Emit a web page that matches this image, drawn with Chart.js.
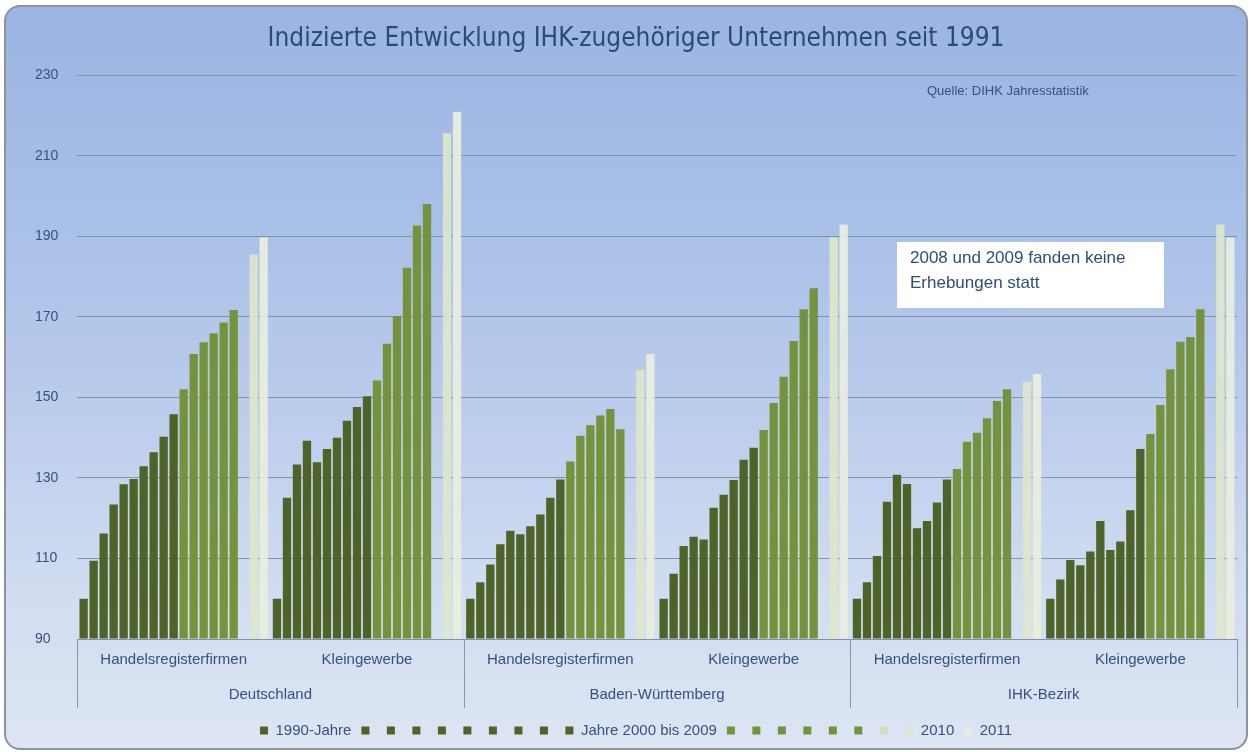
<!DOCTYPE html>
<html>
<head>
<meta charset="utf-8">
<script src="https://cdn.jsdelivr.net/npm/chart.js@4.4.1/dist/chart.umd.min.js"></script>
<style>
html, body { margin: 0; padding: 0; background: #fff; }
#frame {
    position: absolute; left: 4px; top: 5px;
    width: 1240px; height: 741px;
    border: 2px solid #8d939e; border-radius: 16px; overflow: hidden;
    background: linear-gradient(to bottom, #9cb4e2 0%, #a9c0e8 30%, #bccdec 55%, #d2ddf1 80%, #dde5f3 100%);
}
#c { display: block; }
</style>
</head>
<body>
<div id="frame"><canvas id="c" width="1240" height="741"></canvas></div>
<script>
// Gruppen und Kategorien
const groups = ['Deutschland', 'Baden-Württemberg', 'IHK-Bezirk'];
const categories = ['Handelsregisterfirmen', 'Kleingewerbe', 'Handelsregisterfirmen', 'Kleingewerbe', 'Handelsregisterfirmen', 'Kleingewerbe'];
const yMin = 90, yMax = 230, yStep = 20;

// Legende: 10 dunkle, 6 mittlere, 1 leere Reihe (2008/2009), 2010, 2011
const legendLabels = ['1990-Jahre', '', '', '', '', '', '', '', '', 'Jahre 2000 bis 2009',
    '', '', '', '', '', '', '', '2010', '2011'];

// Indexwerte je Kategorie (eine Zahl pro Reihe, null = keine Erhebung)
const dHR   = [100, 109.4, 116.2, 123.4, 128.4, 129.7, 132.9, 136.4, 140.2, 145.8, 152.0, 160.8, 163.7, 165.9, 168.6, 171.7, null, 185.5, 189.7];
const dKG   = [100, 125.1, 133.3, 139.2, 133.9, 137.2, 140.0, 144.2, 147.6, 150.3, 154.2, 163.3, 170.2, 182.2, 192.7, 198.0, null, 215.6, 220.9];
const bwHR  = [100, 104.1, 108.5, 113.5, 116.9, 116.0, 118.0, 120.9, 125.1, 129.6, 134.1, 140.5, 143.1, 145.5, 147.1, 142.1, null, 156.8, 160.8];
const bwKG  = [100, 106.2, 113.1, 115.4, 114.7, 122.6, 125.8, 129.5, 134.5, 137.5, 141.9, 148.6, 155.1, 164.0, 171.9, 177.1, null, 189.7, 192.9];
const ihkHR = [100, 104.1, 110.6, 124.1, 130.8, 128.5, 117.5, 119.3, 123.9, 129.6, 132.2, 139.0, 141.2, 144.8, 149.1, 152.0, null, 153.9, 155.8];
const ihkKG = [100, 104.8, 109.6, 108.3, 111.7, 119.3, 112.1, 114.2, 122.0, 137.2, 140.9, 148.1, 157.0, 163.8, 165.0, 171.9, null, 192.9, 189.7];
const byCategory = [dHR, dKG, bwHR, bwKG, ihkHR, ihkKG];

const DARK = '#4f6228', MID = '#76923c';
const seriesColors = legendLabels.map((_, i) => {
    if (i < 10) return DARK;
    if (i < 16) return MID;
    if (i === 16) return '#d3dfbb';
    return i === 17 ? 'rgba(221,230,203,0.92)' : 'rgba(233,239,220,0.92)';
});

const TXT = '#34527f';
const FONT = "'Liberation Sans', Arial, sans-serif";
Chart.defaults.font.family = FONT;

const datasets = legendLabels.map((lab, i) => ({
    label: lab,
    data: byCategory.map(c => c[i]),
    backgroundColor: seriesColors[i],
    borderWidth: 0,
    base: yMin,
    barPercentage: 0.83,
    categoryPercentage: 0.983
}));

// Gruppenbeschriftung, Trennlinien, Quelle und Hinweis
const extras = {
    id: 'extras',
    afterDraw(chart) {
        const { ctx, chartArea, scales: { x } } = chart;
        const step = x.getPixelForValue(1) - x.getPixelForValue(0);
        ctx.save();
        ctx.strokeStyle = '#8b95a8';
        ctx.lineWidth = 1;
        for (let g = 0; g <= groups.length; g++) {
            const px = Math.round(x.getPixelForValue(0) - step / 2 + g * 2 * step) + 0.5;
            ctx.beginPath();
            ctx.moveTo(px, chartArea.bottom);
            ctx.lineTo(px, 701);
            ctx.stroke();
        }
        ctx.fillStyle = TXT;
        ctx.font = '15px ' + FONT;
        ctx.textAlign = 'center';
        ctx.textBaseline = 'middle';
        groups.forEach((g, i) => {
            const cx = x.getPixelForValue(i * 2) + step / 2;
            ctx.fillText(g, cx, 688);
        });

        ctx.textAlign = 'left';
        ctx.font = '13px ' + FONT;
        ctx.fillText('Quelle: DIHK Jahresstatistik', 921, 84);

        ctx.fillStyle = '#ffffff';
        ctx.fillRect(891, 235, 267, 66);
        ctx.fillStyle = '#2f4d7c';
        ctx.font = '17px ' + FONT;
        ctx.fillText('2008 und 2009 fanden keine', 904, 251);
        ctx.fillText('Erhebungen statt', 904, 276);
        ctx.restore();
    }
};

new Chart(document.getElementById('c'), {
    type: 'bar',
    data: { labels: categories, datasets },
    options: {
        responsive: false,
        animation: false,
        devicePixelRatio: 1,
        layout: { padding: { left: 29, right: 9, top: 0, bottom: 0 } },
        plugins: {
            title: {
                display: true,
                text: 'Indizierte Entwicklung IHK-zugehöriger Unternehmen seit 1991',
                color: '#2b4a7b',
                font: { family: "'Liberation Sans Narrow', 'DejaVu Sans Condensed', sans-serif", size: 26, weight: 'normal' },
                padding: { top: 17, bottom: 20 }
            },
            legend: {
                position: 'bottom',
                labels: {
                    boxWidth: 8, boxHeight: 8, padding: 10,
                    color: TXT, font: { size: 15 }
                }
            },
            tooltip: { enabled: false }
        },
        scales: {
            x: {
                grid: { display: false, drawTicks: false },
                border: { display: false },
                ticks: { color: TXT, font: { size: 15 }, padding: 12, maxRotation: 0 },
                afterFit: s => { s.height = 74; }
            },
            y: {
                min: yMin, max: yMax,
                ticks: { stepSize: yStep, color: TXT, font: { size: 14 }, crossAlign: 'far', padding: 0 },
                grid: { color: '#8591a6', drawTicks: false },
                border: { display: false },
                afterFit: s => { s.width = 42; }
            }
        }
    },
    plugins: [extras]
});
</script>
</body>
</html>
